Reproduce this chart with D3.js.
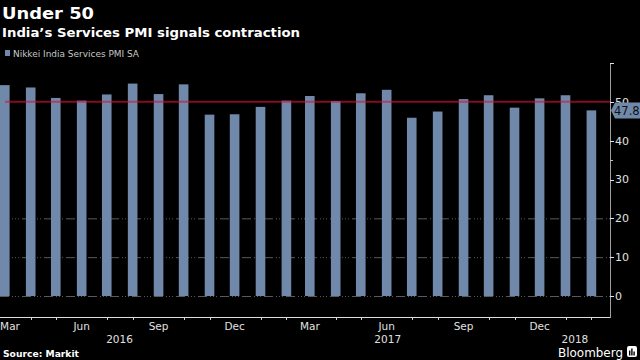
<!DOCTYPE html>
<html><head><meta charset="utf-8">
<script src="https://cdn.jsdelivr.net/npm/d3@7"></script>
<style>
html,body{margin:0;padding:0;background:#000;}
svg{display:block;}
text{font-family:"DejaVu Sans",sans-serif;}
</style></head>
<body>
<svg id="chart" width="640" height="360"></svg>
<script>
const months = ["2016-03","2016-04","2016-05","2016-06","2016-07","2016-08","2016-09","2016-10","2016-11","2016-12",
  "2017-01","2017-02","2017-03","2017-04","2017-05","2017-06","2017-07","2017-08","2017-09","2017-10","2017-11","2017-12",
  "2018-01","2018-02"];
const values = [54.3,53.7,51.0,50.3,51.9,54.7,52.0,54.5,46.7,46.8,48.7,50.3,51.5,50.2,52.2,53.1,45.9,47.5,50.7,51.7,48.5,50.9,51.7,47.8];
const seriesName = "Nikkei India Services PMI SA";
const threshold = 50;
const yTicks = [0,10,20,30,40,50,60];
const yTickLabels = ["0","10","20","30","40","50",""];
const yMinorTicks = [35];
const gridValues = [0,10,20];
const monthLabelMonths = ["2016-03","2016-06","2016-09","2016-12","2017-03","2017-06","2017-09","2017-12"];
const monthLabelText = ["Mar","Jun","Sep","Dec","Mar","Jun","Sep","Dec"];
const yearLabels = ["2016","2017","2018"];
const yearLabelDates = ["2016-07-22","2017-06-08","2018-01-18"];
const lastValueLabel = "47.8";

const parseM = d3.timeParse("%Y-%m");
const parseD = d3.timeParse("%Y-%m-%d");
const svg = d3.select("#chart");

const plotL = 0, plotR = 610, yTop = 63, yZero = 296, axisY = 317;
const x = d3.scaleTime().domain([parseM("2016-03"), parseM("2018-03")]).range([plotL, plotR]);
const y = d3.scaleLinear().domain([0, 60]).range([yZero, yTop]);
const barDays = 11.5;
const centerOf = d => d3.timeHour.offset(d, barDays*12);

// Titles
svg.append("text").attr("x",2).attr("y",19).attr("fill","#fff").attr("font-weight","bold")
  .attr("font-size",16).attr("textLength",92).attr("lengthAdjust","spacingAndGlyphs").text("Under 50");
svg.append("text").attr("x",2).attr("y",37).attr("fill","#fff").attr("font-weight","bold")
  .attr("font-size",13).attr("textLength",298).attr("lengthAdjust","spacingAndGlyphs").text("India\u2019s Services PMI signals contraction");

// Legend
svg.append("rect").attr("x",5).attr("y",50).attr("width",5).attr("height",6).attr("fill","#7089ab");
svg.append("text").attr("x",13).attr("y",57).attr("fill","#c8c8c8").attr("font-size",9)
  .attr("textLength",126).attr("lengthAdjust","spacingAndGlyphs").text(seriesName);

// Gridlines
svg.append("g").selectAll("line").data(gridValues).join("line")
  .attr("x1",plotL).attr("x2",plotR).attr("y1",d=>y(d)+0.5).attr("y2",d=>y(d)+0.5)
  .attr("stroke","#5a5a5a").attr("stroke-width",1).attr("stroke-dasharray","9,3,1,2,1,2,1,3");

// Bars
const data = months.map((m,i)=>({date:parseM(m), value:values[i]}));
svg.append("g").selectAll("rect").data(data).join("rect")
  .attr("x", d=>x(d.date))
  .attr("width", d=>x(d3.timeHour.offset(d.date, barDays*24)) - x(d.date))
  .attr("y", d=>y(d.value))
  .attr("height", d=>y(0)-y(d.value))
  .attr("fill","#7089ab");

// Threshold line
svg.append("line").attr("x1",5).attr("x2",plotR).attr("y1",y(threshold)).attr("y2",y(threshold))
  .attr("stroke","#d0143a").attr("stroke-opacity",0.62).attr("stroke-width",2);

// X axis line
svg.append("line").attr("x1",plotL).attr("x2",plotR+0.5).attr("y1",axisY+0.5).attr("y2",axisY+0.5)
  .attr("stroke","#e0e0e0").attr("stroke-width",1);
// Minor month ticks (unlabeled months)
const unlabeled = data.filter(d=>!monthLabelMonths.includes(d3.timeFormat("%Y-%m")(d.date)));
svg.append("g").selectAll("line").data(unlabeled).join("line")
  .attr("x1",d=>Math.round(x(centerOf(d.date)))+0.5).attr("x2",d=>Math.round(x(centerOf(d.date)))+0.5)
  .attr("y1",axisY+1).attr("y2",axisY+3).attr("stroke","#d0d0d0");
// Month labels
svg.append("g").selectAll("text").data(monthLabelMonths).join("text")
  .attr("x",(m,i)=>Math.max(x(centerOf(parseM(m))), 10))
  .attr("y",330).attr("text-anchor","middle").attr("fill","#e0e0e0").attr("font-size",10.5)
  .text((m,i)=>monthLabelText[i]);
// Year labels
svg.append("g").selectAll("text").data(yearLabels).join("text")
  .attr("x",(t,i)=>x(parseD(yearLabelDates[i])))
  .attr("y",343).attr("text-anchor","middle").attr("fill","#e0e0e0").attr("font-size",10.5)
  .text(t=>t);

// Y axis (right)
svg.append("line").attr("x1",plotR+0.5).attr("x2",plotR+0.5).attr("y1",yTop).attr("y2",axisY+1)
  .attr("stroke","#a0a0a0").attr("stroke-width",1);
const yg = svg.append("g");
yg.selectAll("line.major").data(yTicks).join("line").attr("class","major")
  .attr("x1",plotR).attr("x2",plotR+4).attr("y1",d=>Math.round(y(d))+0.5).attr("y2",d=>Math.round(y(d))+0.5)
  .attr("stroke","#e0e0e0");
yg.selectAll("line.minor").data(yMinorTicks).join("line").attr("class","minor")
  .attr("x1",plotR).attr("x2",plotR+3).attr("y1",d=>Math.round(y(d))+0.5).attr("y2",d=>Math.round(y(d))+0.5)
  .attr("stroke","#c0c0c0");
yg.selectAll("text").data(yTicks).join("text")
  .attr("x",plotR+5).attr("y",d=>y(d)).attr("dy","0.36em").attr("fill","#e0e0e0").attr("font-size",11)
  .text((d,i)=>yTickLabels[i]);

// Last value callout
const lastY = y(values[values.length-1]);
const cg = svg.append("g");
cg.append("path").attr("d", d3.line()([[plotR+1,lastY],[plotR+5,lastY-8],[640,lastY-8],[640,lastY+8],[plotR+5,lastY+8]]) + "Z")
  .attr("fill","#7089ab");
cg.append("text").attr("x",plotR+4).attr("y",lastY).attr("dy","0.36em").attr("fill","#111").attr("font-size",11.5)
  .text(lastValueLabel);

// Footer
svg.append("text").attr("x",3).attr("y",357).attr("fill","#fff").attr("font-weight","bold").attr("font-size",9)
  .attr("textLength",76).attr("lengthAdjust","spacingAndGlyphs").text("Source: Markit");
svg.append("text").attr("x",558).attr("y",357).attr("fill","#fff").attr("font-size",12.5)
  .attr("textLength",65).attr("lengthAdjust","spacingAndGlyphs").text("Bloomberg");
const logo = svg.append("g").attr("transform","translate(627,346)");
logo.append("rect").attr("width",10).attr("height",11).attr("rx",2).attr("fill","#fff");
logo.selectAll("rect.b").data([5,7,4]).join("rect").attr("class","b")
  .attr("x",(d,i)=>2+i*2.2).attr("y",d=>9.5-d).attr("width",1.4).attr("height",d=>d).attr("fill","#000");
</script>
</body></html>
